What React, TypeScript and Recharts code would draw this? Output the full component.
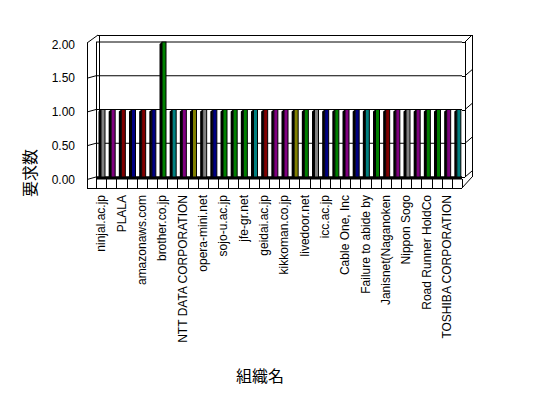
import { Bar, BarChart, CartesianGrid, Cell, XAxis, YAxis } from "recharts";

// only every other organization name is printed on the axis, the rest are unreadable
const organizations = [
  "ninjal.ac.jp", "", "PLALA", "", "amazonaws.com", "", "brother.co.jp", "",
  "NTT DATA CORPORATION", "", "opera-mini.net", "", "sojo-u.ac.jp", "", "jfe-gr.net", "",
  "geidai.ac.jp", "", "kikkoman.co.jp", "", "livedoor.net", "", "icc.ac.jp", "",
  "Cable One, Inc", "", "Failure to abide by", "", "Janisnet(Naganoken", "", "Nippon Sogo", "",
  "Road Runner HoldCo", "", "TOSHIBA CORPORATION", "",
];
const requests = [
  1, 1, 1, 1, 1, 1, 2, 1, 1, 1, 1, 1, 1, 1, 1, 1, 1, 1,
  1, 1, 1, 1, 1, 1, 1, 1, 1, 1, 1, 1, 1, 1, 1, 1, 1, 1,
];
const yTicks = [0, 0.5, 1, 1.5, 2];

const GRAY = "#808080";
const PURPLE = "#800080";
const MAROON = "#800000";
const NAVY = "#000080";
const GREEN = "#008000";
const TEAL = "#008080";
const OLIVE = "#808000";
const barColors = [
  GRAY, PURPLE, MAROON, NAVY, MAROON, NAVY, GREEN, TEAL, PURPLE, OLIVE, GRAY, NAVY,
  GREEN, GREEN, GREEN, TEAL, MAROON, PURPLE, PURPLE, OLIVE, GREEN, GRAY, NAVY, GREEN,
  PURPLE, NAVY, TEAL, GREEN, MAROON, PURPLE, GRAY, PURPLE, GREEN, GREEN, PURPLE, TEAL,
];

const data = organizations.map((org, i) => ({ org, count: requests[i] }));

// plot box
const W = 548;
const H = 398;
const LEFT = 96;
const RIGHT = 462;
const TOP = 42;
const BOTTOM = 177;
const FONT = "'Liberation Sans', Arial, sans-serif";
const JP = "'Noto Sans CJK JP', sans-serif";

const yPos = (v: number) => BOTTOM - ((BOTTOM - TOP) * v) / 2;

function Bar3D(p: any) {
  const { x, y, width, height, fill } = p;
  if (!height || height <= 0) return null;
  const fx = x + 2;
  return (
    <g>
      <polygon
        points={`${fx - 2.5},${y + 2} ${fx},${y} ${fx},${y + height} ${fx - 2.5},${y + height}`}
        fill="#000"
      />
      <rect x={fx} y={y} width={width} height={height} fill={fill} stroke="#000" strokeWidth={1} />
    </g>
  );
}

function YTick(p: any) {
  return (
    <text x={p.x} y={p.y} dy={6.5} textAnchor="end" fontSize={12} fontFamily={FONT} fill="#000">
      {Number(p.payload.value).toFixed(2)}
    </text>
  );
}

function XTick(p: any) {
  const label = p.payload.value;
  if (!label) return null;
  return (
    <text
      transform={`translate(${p.x},${BOTTOM + 18}) rotate(-90)`}
      dy="0.36em"
      textAnchor="end"
      fontSize={12}
      fontFamily={FONT}
      fill="#000"
    >
      {label}
    </text>
  );
}

function Frame() {
  const cell = (RIGHT - LEFT) / organizations.length;
  const k = "#000";
  return (
    <svg width={W} height={H} style={{ position: "absolute", left: 0, top: 0 }}>
      <g stroke={k} strokeWidth={1} fill="none" shapeRendering="crispEdges">
        {/* back and left edges */}
        <line x1={98} y1={35.5} x2={472} y2={35.5} />
        <line x1={87.5} y1={43} x2={87.5} y2={188} />
        <line x1={99.5} y1={35} x2={99.5} y2={BOTTOM} />
        <line x1={96.5} y1={TOP} x2={96.5} y2={BOTTOM} />
        {/* right edges */}
        <line x1={465.5} y1={TOP} x2={465.5} y2={BOTTOM} />
        <line x1={472.5} y1={35} x2={472.5} y2={BOTTOM} />
        {yTicks.map((v) => (
          <line key={`r${v}`} x1={RIGHT} y1={yPos(v) + 0.5} x2={465} y2={yPos(v) + 0.5} />
        ))}
        {/* floor */}
        <line x1={87} y1={188.5} x2={RIGHT} y2={188.5} />
        {organizations.map((_, i) => (
          <line key={`c${i}`} x1={LEFT + cell * i + 0.5} y1={179} x2={LEFT + cell * i + 0.5} y2={188} />
        ))}
        <line x1={RIGHT + 0.5} y1={179} x2={RIGHT + 0.5} y2={188} />
      </g>
      <g stroke={k} strokeWidth={1} fill="none">
        <line x1={87} y1={43} x2={98} y2={35} />
        <line x1={465} y1={TOP} x2={472} y2={35} />
        {yTicks.slice(0, 4).map((v) => (
          <line key={`w${v}`} x1={465} y1={yPos(v)} x2={472} y2={yPos(v) - 6} />
        ))}
        {yTicks.slice(0, 4).map((v) => (
          <line key={`l${v}`} x1={87} y1={yPos(v) + 2.5} x2={96} y2={yPos(v)} />
        ))}
        <line x1={RIGHT} y1={188} x2={472} y2={BOTTOM} />
      </g>
      <rect x={LEFT} y={BOTTOM - 0.5} width={RIGHT - LEFT} height={3} fill={k} />
      <text
        transform="translate(30,173) rotate(-90)"
        textAnchor="middle"
        dy="0.36em"
        fontSize={16}
        fontFamily={JP}
        fill="#000"
      >
        要求数
      </text>
      <text x={260} y={376} textAnchor="middle" dy="0.36em" fontSize={16} fontFamily={JP} fill="#000">
        組織名
      </text>
    </svg>
  );
}

export default function App() {
  return (
    <div style={{ position: "absolute", left: 0, top: 0, width: W, height: H, background: "#fff" }}>
      <Frame />
      <div style={{ position: "absolute", left: 0, top: 0 }}>
        <BarChart
          width={W}
          height={H}
          data={data}
          margin={{ top: TOP, right: W - RIGHT, bottom: H - BOTTOM - 180, left: 0 }}
        >
          <CartesianGrid horizontal vertical={false} stroke="#000" strokeWidth={1} />
          <XAxis
            dataKey="org"
            interval={0}
            height={180}
            axisLine={false}
            tickLine={false}
            tickSize={0}
            tick={<XTick />}
          />
          <YAxis
            width={LEFT}
            domain={[0, 2]}
            ticks={yTicks}
            axisLine={false}
            tickLine={false}
            tickSize={0}
            tickMargin={21}
            tick={<YTick />}
          />
          <Bar dataKey="count" barSize={4} isAnimationActive={false} shape={(p: any) => <Bar3D {...p} />}>
            {data.map((_, i) => (
              <Cell key={i} fill={barColors[i]} />
            ))}
          </Bar>
        </BarChart>
      </div>
    </div>
  );
}
